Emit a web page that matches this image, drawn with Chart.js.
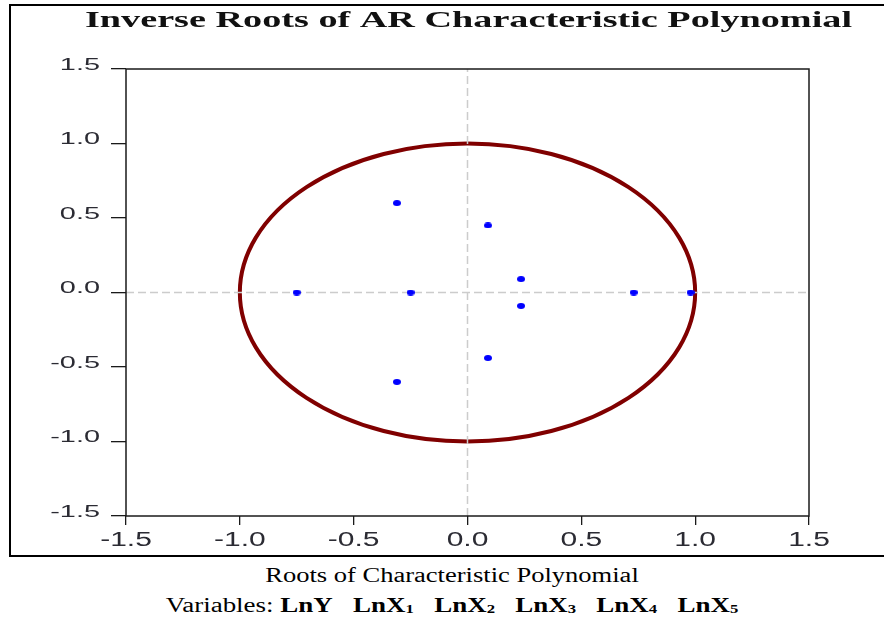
<!DOCTYPE html>
<html>
<head>
<meta charset="utf-8">
<script src="https://cdn.jsdelivr.net/npm/chart.js@4.4.1/dist/chart.umd.min.js"></script>
<style>
  html, body { margin: 0; padding: 0; background: #fff; }
  body { width: 884px; height: 618px; position: relative; overflow: hidden; }
  #box { position: absolute; left: 9px; top: 4px; width: 900px; height: 553px; box-sizing: border-box; border: 2.5px solid #000; }
  #c { position: absolute; left: 0; top: 0; }
  .cap { position: absolute; left: 452px; white-space: nowrap; font-family: "Liberation Serif", serif; font-size: 20px; line-height: 20px; color: #000; transform-origin: center center; }
  .cap b { font-weight: bold; }
  .cap sub { font-size: 62%; vertical-align: -0.12em; line-height: 0; }
  #cap1 { top: 565px; }
  #cap2 { top: 595px; }
</style>
</head>
<body>
<div id="box"></div>
<canvas id="c" width="884" height="560" style="width:884px;height:560px"></canvas>
<div class="cap" id="cap1">Roots of Characteristic Polynomial</div>
<div class="cap" id="cap2">Variables: <b>LnY</b>&nbsp;&nbsp;&nbsp;<b>LnX<sub>1</sub></b>&nbsp;&nbsp;&nbsp;<b>LnX<sub>2</sub></b>&nbsp;&nbsp;&nbsp;<b>LnX<sub>3</sub></b>&nbsp;&nbsp;&nbsp;<b>LnX<sub>4</sub></b>&nbsp;&nbsp;&nbsp;<b>LnX<sub>5</sub></b></div>
<script>
// ---- data ----
const chartTitle = 'Inverse Roots of AR Characteristic Polynomial';
const rootsReal = [-0.31, -0.31, 0.09, 0.09, 0.235, 0.235, -0.75, -0.25, 0.73, 0.98];
const rootsImag = [0.60, -0.60, 0.45, -0.44, 0.09, -0.09, 0.0, 0.0, 0.0, 0.0];
const axisMin = -1.5;
const axisMax = 1.5;
const axisStep = 0.5;
const unitCircleRadius = 1;

// ---- caption scaling (horizontally stretched text, as in reference) ----
function fitCaption(id, targetWidth) {
  const el = document.getElementById(id);
  const w = el.offsetWidth;
  el.style.transform = 'translateX(-50%) scaleX(' + (targetWidth / w) + ')';
}
fitCaption('cap1', 374);
fitCaption('cap2', 572);

// ---- marker image (slightly wide blue dot) ----
const marker = document.createElement('canvas');
marker.width = 8; marker.height = 6;
(function () {
  const m = marker.getContext('2d');
  m.fillStyle = '#0000ff';
  m.beginPath();
  m.ellipse(4, 3, 4, 3, 0, 0, Math.PI * 2);
  m.fill();
  m.fillRect(1, 1, 6, 4);
})();

// ---- plugins ----
const labelStretchPlugin = {
  id: 'labelStretch',
  beforeDraw(chart) {
    const stretch = { x: 1.5, y: 1.7 };
    for (const id of ['x', 'y']) {
      const s = chart.scales[id];
      if (s && !s._stretchWrapped) {
        s.drawLabels = function (area) {
          const c = this.ctx;
          const items = this.getLabelItems(area);
          for (const item of items) {
            const o = item.options;
            c.save();
            c.translate(o.translation[0], o.translation[1]);
            c.scale(stretch[this.id], 1);
            c.font = item.font.string;
            c.fillStyle = o.color;
            c.textAlign = o.textAlign;
            c.textBaseline = o.textBaseline;
            c.fillText(item.label, 0, item.textOffset);
            c.restore();
          }
        };
        s._stretchWrapped = true;
      }
    }
  }
};

const unitCirclePlugin = {
  id: 'unitCircle',
  beforeDatasetsDraw(chart) {
    const { ctx, scales: { x, y } } = chart;
    const cx = x.getPixelForValue(0), cy = y.getPixelForValue(0);
    const rx = x.getPixelForValue(unitCircleRadius) - cx;
    const ry = cy - y.getPixelForValue(unitCircleRadius);
    ctx.save();
    ctx.beginPath();
    ctx.ellipse(cx, cy, rx, ry, 0, 0, Math.PI * 2);
    ctx.strokeStyle = '#800000';
    ctx.lineWidth = 4;
    ctx.stroke();
    ctx.restore();
  }
};

const framePlugin = {
  id: 'frame',
  afterDatasetsDraw(chart) {
    const { ctx, chartArea: a } = chart;
    ctx.save();
    ctx.strokeStyle = '#1a1a1a';
    ctx.lineWidth = 1.5;
    ctx.strokeRect(a.left, a.top, a.right - a.left, a.bottom - a.top);
    ctx.restore();
  }
};

const titlePlugin = {
  id: 'stretchedTitle',
  afterDraw(chart) {
    const ctx = chart.ctx;
    ctx.save();
    ctx.font = 'bold 24px "Liberation Serif"';
    const w = ctx.measureText(chartTitle).width;
    const sx = 767 / w;
    ctx.translate(85, 27);
    ctx.scale(sx, 1);
    ctx.fillStyle = '#111';
    ctx.textAlign = 'left';
    ctx.textBaseline = 'alphabetic';
    ctx.fillText(chartTitle, 0, 0);
    ctx.restore();
  }
};

// ---- chart ----
const rootPoints = rootsReal.map((re, i) => ({ x: re, y: rootsImag[i] }));
const zeroLineH = [{ x: axisMin, y: 0 }, { x: axisMax, y: 0 }];
const zeroLineV = [{ x: 0, y: axisMin }, { x: 0, y: axisMax }];

const tickFmt = v => Number(v).toFixed(1);

new Chart(document.getElementById('c'), {
  type: 'scatter',
  data: {
    datasets: [
      { label: 'zeroH', data: zeroLineH, showLine: true, borderColor: '#cccccc', borderWidth: 1.5, borderDash: [8, 4], pointRadius: 0, order: 3 },
      { label: 'zeroV', data: zeroLineV, showLine: true, borderColor: '#cccccc', borderWidth: 1.5, borderDash: [8, 4], pointRadius: 0, order: 2 },
      { label: 'Inverse roots', data: rootPoints, pointStyle: marker, pointRadius: 4, backgroundColor: '#0000ff', borderColor: '#0000ff', borderWidth: 0, order: 1 }
    ]
  },
  options: {
    responsive: false,
    animation: false,
    devicePixelRatio: 1,
    layout: { padding: { top: 69, right: 75, bottom: 0, left: 0 } },
    plugins: { legend: { display: false }, tooltip: { enabled: false }, title: { display: false } },
    scales: {
      x: {
        type: 'linear', min: axisMin, max: axisMax,
        afterFit(s) { s.height = 44; },
        border: { display: false },
        grid: { drawOnChartArea: false, drawTicks: true, tickLength: 9, color: '#1a1a1a', tickColor: '#1a1a1a', lineWidth: 1.3 },
        ticks: { stepSize: axisStep, callback: tickFmt, color: '#2b2b33', padding: 3, maxRotation: 0,
                 font: { family: '"Liberation Sans"', size: 20 } }
      },
      y: {
        type: 'linear', min: axisMin, max: axisMax,
        afterFit(s) { s.width = 126; },
        border: { display: false },
        grid: { drawOnChartArea: false, drawTicks: true, tickLength: 15, color: '#1a1a1a', tickColor: '#1a1a1a', lineWidth: 1.3 },
        ticks: { stepSize: axisStep, callback: tickFmt, color: '#2b2b33', padding: 11, labelOffset: -4,
                 font: { family: '"Liberation Sans"', size: 17 } }
      }
    }
  },
  plugins: [labelStretchPlugin, unitCirclePlugin, framePlugin, titlePlugin]
});
</script>
</body>
</html>
